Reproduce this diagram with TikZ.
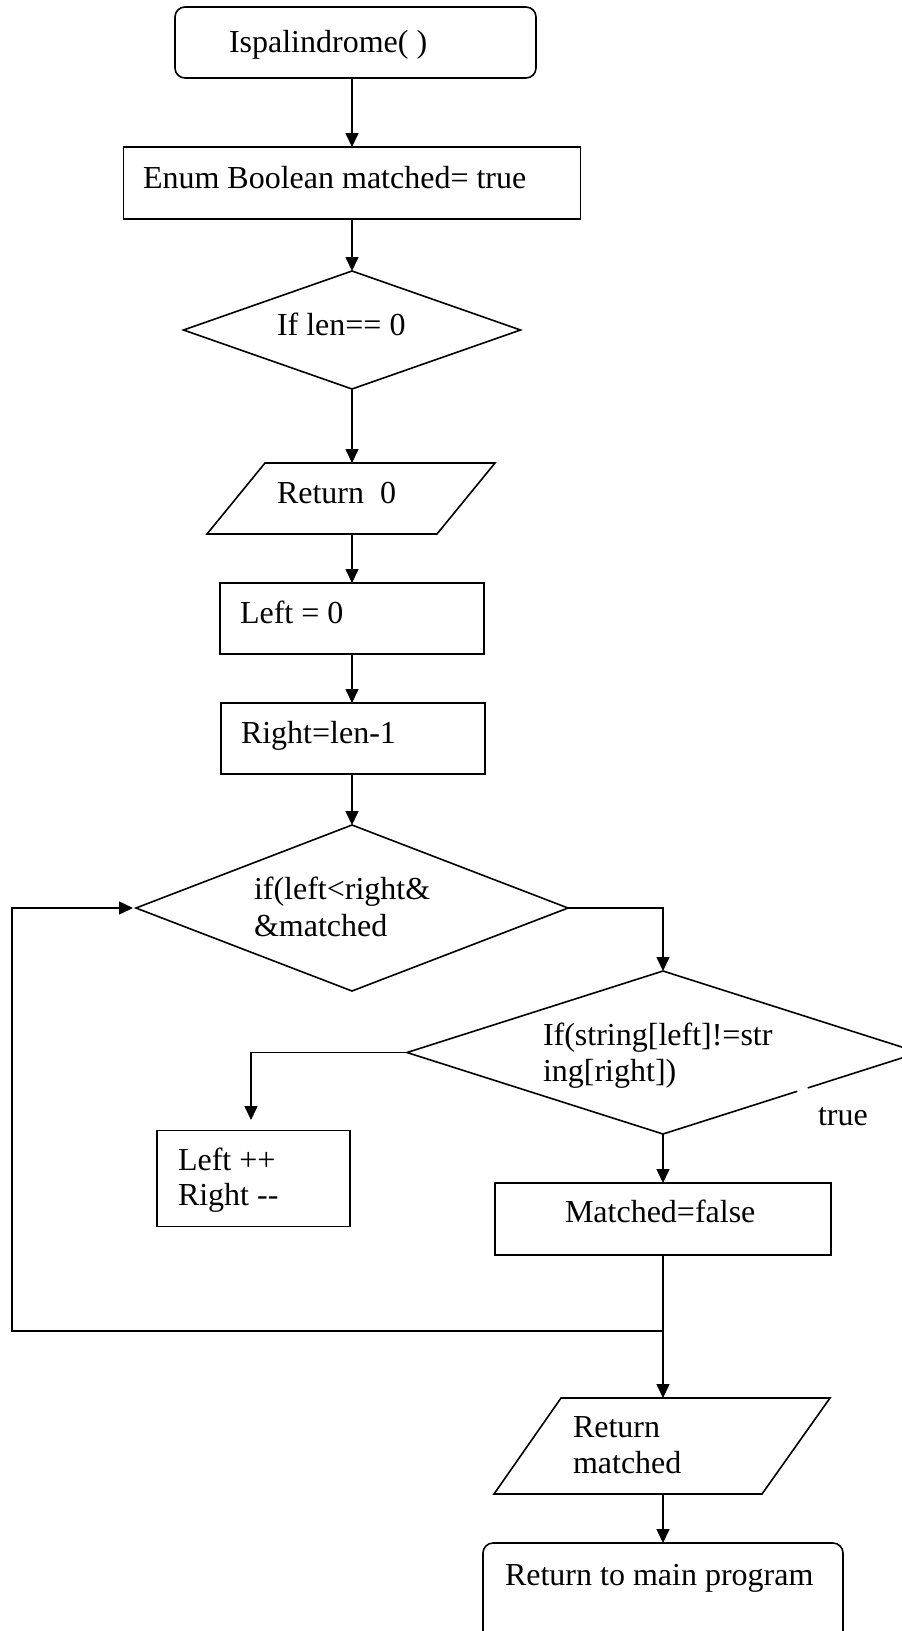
\documentclass[tikz,border=0pt]{standalone}
\usepackage{fontspec}
\setmainfont{Liberation Serif}
\usetikzlibrary{shapes.geometric,arrows.meta,calc}
\begin{document}
\begin{tikzpicture}[x=1pt,y=-1pt,
  every node/.style={inner sep=0pt,outer sep=0pt},
  shapeline/.style={draw=black,line width=1.6pt},
  roundbox/.style={shapeline,rectangle,rounded corners=10pt},
  procbox/.style={shapeline,rectangle},
  decision/.style={shapeline,diamond},
  ioframe/.style={rectangle},
  arr/.style={line width=1.6pt,-{Triangle[length=14pt,width=13pt]}},
  conn/.style={line width=1.6pt},
  txt/.style={anchor=base west,font=\fontsize{32}{36.8}\selectfont}
]
\useasboundingbox (0,0) rectangle (902,1631);

% shapes
\node[roundbox,minimum width=361,minimum height=71] (start) at (355.5,42.5) {};
\node[procbox,minimum width=457,minimum height=72] (b2) at (352,183) {};
\node[decision,minimum width=337,minimum height=118] (d1) at (352,330) {};
\node[ioframe,minimum width=288,minimum height=71] (p1) at (352,498.5) {};
\draw[shapeline] ($(p1.north)+(-87,0)$) -- ($(p1.north)+(143,0)$) -- ($(p1.south)+(85,0)$) -- ($(p1.south)+(-145,0)$) -- cycle;
\node[procbox,minimum width=264,minimum height=71] (left0) at (352,618.5) {};
\node[procbox,minimum width=264,minimum height=71] (right0) at (353,738.5) {};
\node[decision,minimum width=432,minimum height=166] (d2) at (352,908) {};
\node[decision,minimum width=512,minimum height=163] (d3) at (663,1052.5) {};
\node[procbox,minimum width=193,minimum height=96] (lr) at (253.5,1178.5) {};
\node[procbox,minimum width=336,minimum height=72] (mf) at (663,1219) {};
\node[ioframe,minimum width=336,minimum height=96] (p2) at (663,1446) {};
\draw[shapeline] ($(p2.north)+(-102,0)$) -- ($(p2.north)+(167,0)$) -- ($(p2.south)+(99,0)$) -- ($(p2.south)+(-169,0)$) -- cycle;
\node[roundbox,minimum width=360,minimum height=104] (fin) at (663,1595) {};

% gap in the lower right edge of the second decision
\draw[white,line width=4pt] ($(d3.south)!0.525!(d3.east)$) -- ($(d3.south)!0.565!(d3.east)$);

% coordinates
\coordinate (lrtip) at (251,1120);
\coordinate (j) at (663,1331);
\coordinate (loopx) at (12,1331);

% connectors
\draw[arr] (start.south -| b2.north) -- (b2.north);
\draw[arr] (b2.south) -- (d1.north);
\draw[arr] (d1.south) -- (p1.north);
\draw[arr] (p1.south) -- (left0.north);
\draw[arr] (left0.south) -- (left0.south |- right0.north);
\draw[arr] (right0.south -| d2.north) -- (d2.north);
\draw[arr] (d2.east) -| (d3.north);
\draw[arr] (d3.west) -| (lrtip);
\draw[arr] (d3.south) -- (mf.north);
\draw[arr] (mf.south) -- (p2.north);
\draw[arr] (p2.south) -- (fin.north);
\draw[arr,shorten >=3pt] (j) -- (loopx) |- (d2.west);

% texts
\node[txt] (t0) at (229,52) {Ispalindrome( )};
\node[txt] (t1) at (143,188) {Enum Boolean matched= true};
\node[txt] (t2) at (277,335) {If len== 0};
\node[txt] (t3) at (277,503) {Return~~0};
\node[txt] (t4) at (240,623) {Left = 0};
\node[txt] (t5) at (241,743) {Right=len-1};
\node[txt] (t6a) at (254,899) {if(left<right\&};
\node[txt] (t6b) at (254,936) {\&matched};
\node[txt] (t7a) at (543,1045) {If(string[left]!=str};
\node[txt] (t7b) at (543,1081) {ing[right])};
\node[txt] (t8) at (818,1125) {true};
\node[txt] (t9a) at (178,1170) {Left ++};
\node[txt] (t9b) at (178,1205) {Right -{}-};
\node[txt] (t10) at (565,1222) {Matched=false};
\node[txt] (t11a) at (573,1437) {Return};
\node[txt] (t11b) at (573,1473) {matched};
\node[txt] (t12) at (505,1585) {Return to main program};
\end{tikzpicture}
\end{document}
